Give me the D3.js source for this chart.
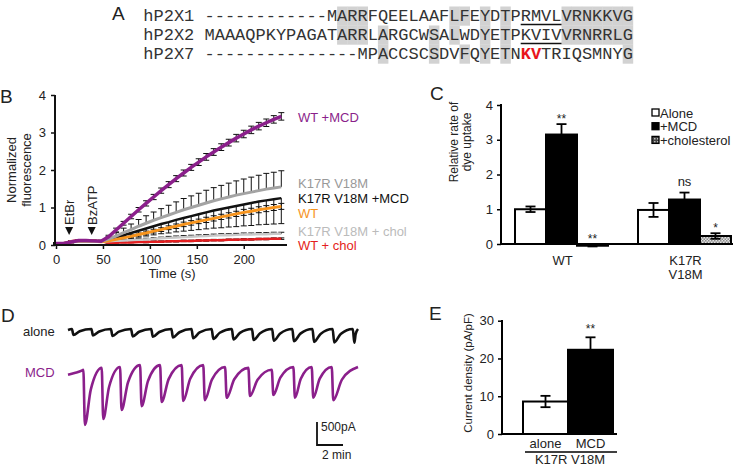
<!DOCTYPE html>
<html><head><meta charset="utf-8">
<script src="https://cdn.jsdelivr.net/npm/d3@7"></script>
<style>
body{margin:0;background:#fff}
svg{display:block;font-family:"Liberation Sans",Arial,sans-serif}
</style></head><body>
<svg id="fig" width="745" height="468"></svg>
<script>
// ===== Panel A data =====
const seqNames = ["hP2X1","hP2X2","hP2X7"];
const seqs = [
 "------------MARRFQEELAAFLFEYDTPRMVLVRNKKVG",
 "MAAAQPKYPAGATARRLARGCWSALWDYETPKVIVVRNRRLG",
 "---------------MPACCSCSDVFQYETNKVTRIQSMNYG"];
const shadedCells = [[13,0],[13,1],[14,0],[14,1],[15,0],[15,1],[17,1],[17,2],[22,1],[22,2],
 [24,0],[24,1],[25,0],[25,2],[27,0],[27,1],[27,2],[29,0],[29,1],[29,2],
 [35,0],[35,1],[36,0],[36,1],[37,0],[37,1],[38,0],[38,1],[39,0],[39,1],[40,0],[40,1],[41,0],[41,1],[41,2]];
const underlined = [[0,31,34],[1,31,34]];
const redCells = [[2,31],[2,32]];

// ===== Panel B data =====
const timesB = [0,8,16,24,32,40,48,56,64,72,80,88,96,104,112,120,128,136,144,152,160,168,176,184,192,200,208,216,224,232,240];
const wtMCD   = [0.04,0.04,0.08,0.12,0.12,0.11,0.10,0.22,0.40,0.58,0.76,0.94,1.11,1.28,1.45,1.61,1.77,1.92,2.07,2.21,2.35,2.48,2.61,2.73,2.85,2.96,3.07,3.17,3.26,3.35,3.43];
const wtMCDErr= [0.02,0.02,0.02,0.02,0.02,0.02,0.03,0.04,0.05,0.05,0.06,0.06,0.07,0.07,0.07,0.08,0.08,0.08,0.08,0.09,0.09,0.09,0.09,0.09,0.10,0.10,0.10,0.10,0.10,0.10,0.10];
const kv      = [0.04,0.04,0.08,0.11,0.11,0.10,0.10,0.16,0.24,0.33,0.41,0.50,0.58,0.66,0.73,0.80,0.87,0.94,1.00,1.06,1.12,1.18,1.23,1.28,1.33,1.37,1.41,1.45,1.49,1.52,1.55];
const kvErr   = [0.02,0.02,0.02,0.02,0.02,0.02,0.02,0.06,0.09,0.12,0.15,0.18,0.20,0.22,0.24,0.26,0.28,0.30,0.31,0.32,0.34,0.35,0.36,0.37,0.38,0.39,0.40,0.41,0.42,0.42,0.43];
const kvMCD   = [0.04,0.04,0.08,0.11,0.11,0.10,0.10,0.14,0.20,0.26,0.32,0.38,0.44,0.50,0.56,0.61,0.67,0.72,0.77,0.82,0.87,0.92,0.96,1.00,1.04,1.08,1.12,1.16,1.19,1.22,1.25];
const kvMCDErr= [0.02,0.02,0.02,0.02,0.02,0.02,0.02,0.05,0.08,0.11,0.14,0.17,0.20,0.23,0.26,0.29,0.32,0.35,0.38,0.41,0.44,0.47,0.50,0.52,0.55,0.57,0.60,0.62,0.64,0.66,0.68];
const wt      = [0.04,0.04,0.08,0.11,0.11,0.10,0.09,0.11,0.15,0.19,0.23,0.28,0.32,0.37,0.41,0.46,0.50,0.55,0.59,0.63,0.67,0.71,0.75,0.79,0.83,0.87,0.90,0.94,0.97,1.00,1.03];
const wtErr   = [0.02,0.02,0.02,0.02,0.02,0.02,0.02,0.03,0.03,0.04,0.04,0.04,0.05,0.05,0.05,0.05,0.06,0.06,0.06,0.06,0.07,0.07,0.07,0.07,0.07,0.08,0.08,0.08,0.08,0.08,0.08];
const kvChol  = [0.04,0.04,0.07,0.09,0.09,0.09,0.09,0.10,0.11,0.12,0.13,0.14,0.15,0.16,0.18,0.19,0.20,0.21,0.22,0.23,0.24,0.25,0.26,0.26,0.27,0.28,0.28,0.29,0.29,0.30,0.30];
const kvCholErr=[0.01,0.01,0.01,0.01,0.01,0.01,0.01,0.02,0.02,0.02,0.03,0.03,0.03,0.03,0.03,0.04,0.04,0.04,0.04,0.04,0.04,0.04,0.04,0.04,0.04,0.04,0.04,0.04,0.04,0.04,0.04];
const wtChol  = [0.04,0.04,0.10,0.13,0.13,0.12,0.10,0.06,0.06,0.07,0.07,0.08,0.08,0.09,0.09,0.10,0.10,0.11,0.11,0.12,0.12,0.13,0.13,0.14,0.14,0.15,0.15,0.16,0.16,0.17,0.17];
const wtCholErr=[0.01,0.01,0.01,0.01,0.01,0.01,0.01,0.01,0.01,0.01,0.01,0.01,0.02,0.02,0.02,0.02,0.02,0.02,0.02,0.02,0.02,0.02,0.02,0.02,0.02,0.02,0.02,0.02,0.02,0.02,0.02];
const bTicksX = [0,50,100,150,200];
const bTicksY = [0,1,2,3,4];
const bMarkers = [["EtBr",14],["BzATP",38]];

// ===== Panel C data =====
const cGroups = ["WT","K17R V18M"];
const cConds = ["Alone","+MCD","+cholesterol"];
const cValues = [[1.0,3.15,-0.05],[0.98,1.28,0.23]];
const cErrors = [[0.08,0.30,0.02],[0.20,0.20,0.08]];
const cSig = [["","**","**"],["","ns","*"]];
const cTicks = [0,1,2,3,4];

// ===== Panel D data (min, pA) =====
const aloneDrops = [0.3,1.8,3.3,4.85,6.4,7.95,9.5,11.05,12.6,14.15,15.7,17.25,18.8,20.35,21.9];
const alonePeaks = [-130,-140,-150,-160,-170,-185,-200,-215,-225,-240,-255,-265,-280,-290,-300];
const mcdDrops = [1.18,2.59,4.0,5.54,7.08,8.74,10.4,12.08,13.87,15.67,17.33,18.74,20.28];
const mcdTops  = [-60,-20,0,40,40,40,40,0,-20,-60,0,0,0];
const mcdPeaks = [-1260,-1130,-935,-850,-760,-740,-720,-670,-630,-610,-670,-670,-720];
const mcdStart = [[0,-170],[0.5,-130],[1.05,-80]];
const traceEnd = 22.3;

// ===== Panel E data =====
const eConds = ["alone","MCD"];
const eValues = [8.6,22.3];
const eErrors = [1.5,3.3];
const eTicks = [0,10,20,30];

const svg = d3.select("#fig");
const TXT = "#222";
const PURPLE = "#8b1f8b", ORANGE = "#f7941d", RED = "#e41e20", GRAY = "#a3a3a3", LGRAY = "#c8c8c8";
const fmt = d3.format("d");

function panelLabel(t,x,y){svg.append("text").attr("x",x).attr("y",y).attr("font-size",19).attr("fill",TXT).text(t);}

// ---------- A ----------
(function(){
  const g = svg.append("g");
  const cw = 10.2, x0 = 143.3 + 6*cw;
  const base = [21,40,59];
  const col = d3.scaleLinear().domain([0,1]).range([x0,x0+cw]);
  g.selectAll("rect.sh").data(shadedCells).join("rect")
    .attr("x",d=>col(d[0])).attr("y",d=>base[d[1]]-14.5).attr("width",cw+0.3).attr("height",19.2)
    .attr("fill","#d2d2d2");
  panelLabel("A",112,20);
  seqNames.forEach((n,r)=>{
    g.append("text").attr("x",143.3).attr("y",base[r]).attr("font-family","Liberation Mono, Courier New, monospace")
      .attr("font-size",17).attr("fill","#333").text(n);
    const chars = seqs[r].split("");
    g.selectAll(null).data(chars.map((c,i)=>({c,i}))).join("text")
      .attr("x",d=>col(d.i)).attr("y",base[r])
      .attr("font-family","Liberation Mono, Courier New, monospace").attr("font-size",17)
      .attr("fill",d=>redCells.some(rc=>rc[0]===r&&rc[1]===d.i)?"#e8141b":"#333")
      .attr("font-weight",d=>redCells.some(rc=>rc[0]===r&&rc[1]===d.i)?"bold":"normal")
      .text(d=>d.c);
  });
  underlined.forEach(u=>{
    g.append("line").attr("x1",col(u[1])).attr("x2",col(u[2]+1)).attr("y1",base[u[0]]+3.5).attr("y2",base[u[0]]+3.5)
      .attr("stroke","#111").attr("stroke-width",1.4);
  });
})();

// ---------- B ----------
(function(){
  const g = svg.append("g");
  panelLabel("B",0,103);
  const x = d3.scaleLinear().domain([0,245]).range([56,286]);
  const y = d3.scaleLinear().domain([0,4]).range([245,95]);
  const series = [
    {v:wtChol,e:wtCholErr,dir:"both",c:RED,w:2.5},
    {v:kvChol,e:kvCholErr,dir:"up",c:LGRAY,w:2.5},
    {v:kvMCD,e:kvMCDErr,dir:"down",c:"#111",w:2.5},
    {v:wt,e:wtErr,dir:"both",c:ORANGE,w:3},
    {v:kv,e:kvErr,dir:"up",c:GRAY,w:3},
    {v:wtMCD,e:wtMCDErr,dir:"both",c:PURPLE,w:3.5}
  ];
  series.forEach(s=>{
    const pts = timesB.map((t,i)=>({t,v:s.v[i],e:s.e[i]}));
    const eg = g.append("g").attr("stroke","#111").attr("stroke-width",1);
    pts.forEach(p=>{
      const hi = s.dir==="down"?p.v:p.v+p.e, lo = s.dir==="up"?p.v:p.v-p.e;
      eg.append("line").attr("x1",x(p.t)).attr("x2",x(p.t)).attr("y1",y(hi)).attr("y2",y(lo));
      if(s.dir!=="down") eg.append("line").attr("x1",x(p.t)-3).attr("x2",x(p.t)+3).attr("y1",y(hi)).attr("y2",y(hi));
      if(s.dir!=="up") eg.append("line").attr("x1",x(p.t)-3).attr("x2",x(p.t)+3).attr("y1",y(lo)).attr("y2",y(lo));
    });
  });
  const line = d3.line().x((d,i)=>x(timesB[i])).y(d=>y(d));
  series.forEach(s=>{
    g.append("path").attr("d",line(s.v)).attr("fill","none").attr("stroke",s.c).attr("stroke-width",s.w);
  });
  const ya = g.append("g").attr("transform","translate(55,0)")
    .call(d3.axisLeft(y).tickValues(bTicksY).tickFormat(fmt).tickSize(4).tickPadding(5).tickSizeOuter(0));
  const xa = g.append("g").attr("transform","translate(0,245)")
    .call(d3.axisBottom(x).tickValues(bTicksX).tickFormat(fmt).tickSize(4).tickPadding(6).tickSizeOuter(0));
  [ya,xa].forEach(a=>{a.select(".domain").remove();a.selectAll("line").attr("stroke","#111").attr("stroke-width",1.5);
    a.selectAll("text").attr("font-size",13).attr("fill",TXT).attr("font-family","Liberation Sans, Arial, sans-serif");});
  g.append("line").attr("x1",55).attr("x2",55).attr("y1",95).attr("y2",246).attr("stroke","#111").attr("stroke-width",2);
  g.append("line").attr("x1",54).attr("x2",287).attr("y1",245).attr("y2",245).attr("stroke","#111").attr("stroke-width",2);
  g.append("text").attr("x",172).attr("y",278).attr("text-anchor","middle").attr("font-size",13).attr("fill",TXT).text("Time (s)");
  const yt = g.append("text").attr("transform","translate(16,170) rotate(-90)").attr("text-anchor","middle").attr("font-size",13).attr("fill",TXT);
  yt.append("tspan").attr("x",0).attr("y",0).text("Normalized");
  yt.append("tspan").attr("x",0).attr("y",15).text("fluorescence");
  bMarkers.forEach(m=>{
    const mx = x(m[1]);
    g.append("path").attr("d",`M${mx-4},227L${mx+4},227L${mx},235Z`).attr("fill","#111");
    g.append("text").attr("transform",`translate(${mx+5},225) rotate(-90)`).attr("font-size",13).attr("fill",TXT).text(m[0]);
  });
  const labels = [["WT +MCD",117,PURPLE],["K17R V18M",183,"#999"],["K17R V18M +MCD",198,"#111"],["WT",213,ORANGE],["K17R V18M + chol",231,"#bbb"],["WT + chol",245,RED]];
  labels.forEach(l=>g.append("text").attr("x",298).attr("y",l[1]+4.5).attr("font-size",13).attr("fill",l[2]).text(l[0]));
})();

// ---------- C ----------
(function(){
  const g = svg.append("g");
  panelLabel("C",430,100);
  const defs = svg.append("defs");
  const p1 = defs.append("pattern").attr("id","chk").attr("width",3).attr("height",3).attr("patternUnits","userSpaceOnUse");
  p1.append("rect").attr("width",3).attr("height",3).attr("fill","#e2e2e2");
  p1.append("rect").attr("width",1.5).attr("height",1.5).attr("fill","#8a8a8a");
  p1.append("rect").attr("x",1.5).attr("y",1.5).attr("width",1.5).attr("height",1.5).attr("fill","#8a8a8a");
  const p2 = defs.append("pattern").attr("id","chk2").attr("width",3).attr("height",3).attr("patternUnits","userSpaceOnUse");
  p2.append("rect").attr("width",3).attr("height",3).attr("fill","#444");
  p2.append("rect").attr("width",1.5).attr("height",1.5).attr("fill","#bbb");
  const y = d3.scaleLinear().domain([0,4]).range([244,105]);
  const xg = d3.scaleBand().domain(cGroups).range([500,746]).paddingInner(0.244).paddingOuter(0.122);
  const xc = d3.scaleBand().domain(cConds).range([0,xg.bandwidth()]);
  const fills = {"Alone":"#fff","+MCD":"#000","+cholesterol":"url(#chk)"};
  cGroups.forEach((gr,gi)=>{
    cConds.forEach((c,ci)=>{
      const v = cValues[gi][ci], e = cErrors[gi][ci];
      const bx = xg(gr)+xc(c), bw = xc.bandwidth(), cx = bx+bw/2;
      g.append("rect").attr("x",bx).attr("y",Math.min(y(v),y(0))).attr("width",bw).attr("height",Math.max(Math.abs(y(v)-y(0)),1.5))
        .attr("fill",fills[c]).attr("stroke","#000").attr("stroke-width",2);
      const eg = g.append("g").attr("stroke","#000").attr("stroke-width",1.8);
      eg.append("line").attr("x1",cx).attr("x2",cx).attr("y1",y(v+e)).attr("y2",y(ci===1?v:v-e));
      eg.append("line").attr("x1",cx-5).attr("x2",cx+5).attr("y1",y(v+e)).attr("y2",y(v+e));
      if(ci!==1) eg.append("line").attr("x1",cx-5).attr("x2",cx+5).attr("y1",y(v-e)).attr("y2",y(v-e));
      const s = cSig[gi][ci];
      if(s){
        const top = y(Math.max(v+e,0));
        if(s==="ns") g.append("text").attr("x",cx).attr("y",top-7).attr("text-anchor","middle").attr("font-size",13).attr("fill",TXT).text(s);
        else g.append("text").attr("x",cx).attr("y",top-1).attr("text-anchor","middle").attr("font-size",12).attr("fill",TXT).text(s);
      }
    });
  });
  const ya = g.append("g").attr("transform","translate(501,0)")
    .call(d3.axisLeft(y).tickValues(cTicks).tickFormat(fmt).tickSize(4).tickPadding(4).tickSizeOuter(0));
  ya.select(".domain").remove();
  ya.selectAll("line").attr("stroke","#000").attr("stroke-width",1.5);
  ya.selectAll("text").attr("font-size",13).attr("fill",TXT).attr("font-family","Liberation Sans, Arial, sans-serif");
  g.append("line").attr("x1",501).attr("x2",501).attr("y1",104).attr("y2",245).attr("stroke","#000").attr("stroke-width",2);
  g.append("line").attr("x1",500).attr("x2",733).attr("y1",244).attr("y2",244).attr("stroke","#000").attr("stroke-width",2);
  cGroups.forEach(gr=>{
    const parts = gr.split(" ");
    parts.forEach((p,i)=>g.append("text").attr("x",xg(gr)+xg.bandwidth()/2+1).attr("y",265+i*14).attr("text-anchor","middle").attr("font-size",13).attr("fill",TXT).text(p));
  });
  const yt = g.append("text").attr("transform","translate(458,142) rotate(-90)").attr("text-anchor","middle").attr("font-size",12).attr("fill",TXT);
  yt.append("tspan").attr("x",0).attr("y",0).text("Relative rate of");
  yt.append("tspan").attr("x",0).attr("y",13).text("dye uptake");
  const lf = {"Alone":"#fff","+MCD":"#000","+cholesterol":"url(#chk2)"};
  cConds.forEach((c,i)=>{
    const ly = 113 + i*13.7;
    g.append("rect").attr("x",652).attr("y",ly-4).attr("width",7).attr("height",7).attr("fill",lf[c]).attr("stroke","#000").attr("stroke-width",1.3);
    g.append("text").attr("x",660).attr("y",ly+4.5).attr("font-size",13).attr("fill",TXT).text(c);
  });
})();

// ---------- D ----------
(function(){
  const g = svg.append("g");
  panelLabel("D",1,322);
  const x = d3.scaleLinear().domain([0,traceEnd]).range([68,358]);
  const yA = d3.scaleLinear().domain([-1500,0]).range([329+69,329]);
  const yM = d3.scaleLinear().domain([-1500,0]).range([367+69,367]);
  function build(drops,tops,peaks,start){
    const pts = start.slice();
    drops.forEach((t,i)=>{
      const next = i<drops.length-1?drops[i+1]:traceEnd;
      const top = tops[i], pk = peaks[i];
      const nextTop = i<drops.length-1?tops[i+1]:0;
      pts.push([t,top]);
      pts.push([t+0.12,pk]);
      pts.push([t+0.12+(next-t-0.12)*0.35, pk+(nextTop-pk)*0.62]);
    });
    pts.push([traceEnd,0]);
    return pts;
  }
  const aTops = aloneDrops.map(()=>0);
  const aPts = build(aloneDrops,aTops,alonePeaks,[[0,-20]]);
  const mPts = build(mcdDrops,mcdTops,mcdPeaks,mcdStart);
  g.append("path").attr("d",d3.line().x(d=>x(d[0])).y(d=>yA(d[1])).curve(d3.curveMonotoneX)(aPts))
    .attr("fill","none").attr("stroke","#111").attr("stroke-width",2.6).attr("stroke-linejoin","round");
  g.append("path").attr("d",d3.line().x(d=>x(d[0])).y(d=>yM(d[1])).curve(d3.curveMonotoneX)(mPts))
    .attr("fill","none").attr("stroke",PURPLE).attr("stroke-width",2.6).attr("stroke-linejoin","round");
  g.append("text").attr("x",23).attr("y",336).attr("font-size",13).attr("fill",TXT).text("alone");
  g.append("text").attr("x",25).attr("y",377).attr("font-size",13).attr("fill",PURPLE).text("MCD");
  const sx = 317, sy = 445;
  g.append("path").attr("d",`M${sx},${sy-(yM(-500)-yM(0))}L${sx},${sy}L${sx+(x(2)-x(0))},${sy}`)
    .attr("fill","none").attr("stroke","#111").attr("stroke-width",1.8);
  g.append("text").attr("x",321).attr("y",431).attr("font-size",12).attr("fill",TXT).text("500pA");
  g.append("text").attr("x",322).attr("y",459).attr("font-size",12).attr("fill",TXT).text("2 min");
})();

// ---------- E ----------
(function(){
  const g = svg.append("g");
  panelLabel("E",429,320);
  const y = d3.scaleLinear().domain([0,30]).range([434,320.7]);
  const x = d3.scaleBand().domain(eConds).range([523,613]);
  eConds.forEach((c,i)=>{
    const v = eValues[i], e = eErrors[i], bx = x(c), bw = x.bandwidth(), cx = bx+bw/2;
    g.append("rect").attr("x",bx).attr("y",y(v)).attr("width",bw).attr("height",y(0)-y(v))
      .attr("fill",i===0?"#fff":"#000").attr("stroke","#000").attr("stroke-width",2);
    const eg = g.append("g").attr("stroke","#000").attr("stroke-width",1.8);
    eg.append("line").attr("x1",cx).attr("x2",cx).attr("y1",y(v+e)).attr("y2",y(i===0?v-e:v));
    eg.append("line").attr("x1",cx-5).attr("x2",cx+5).attr("y1",y(v+e)).attr("y2",y(v+e));
    if(i===0) eg.append("line").attr("x1",cx-5).attr("x2",cx+5).attr("y1",y(v-e)).attr("y2",y(v-e));
    g.append("text").attr("x",cx).attr("y",448).attr("text-anchor","middle").attr("font-size",13).attr("fill",TXT).text(c);
  });
  g.append("text").attr("x",x("MCD")+x.bandwidth()/2).attr("y",y(eValues[1]+eErrors[1])-4).attr("text-anchor","middle").attr("font-size",12).attr("fill",TXT).text("**");
  const ya = g.append("g").attr("transform","translate(502,0)")
    .call(d3.axisLeft(y).tickValues(eTicks).tickFormat(fmt).tickSize(4).tickPadding(4).tickSizeOuter(0));
  ya.select(".domain").remove();
  ya.selectAll("line").attr("stroke","#000").attr("stroke-width",1.5);
  ya.selectAll("text").attr("font-size",13).attr("fill",TXT).attr("font-family","Liberation Sans, Arial, sans-serif");
  g.append("line").attr("x1",502).attr("x2",502).attr("y1",320).attr("y2",435).attr("stroke","#000").attr("stroke-width",2);
  g.append("line").attr("x1",501).attr("x2",617).attr("y1",434).attr("y2",434).attr("stroke","#000").attr("stroke-width",2);
  g.append("line").attr("x1",525).attr("x2",617).attr("y1",452).attr("y2",452).attr("stroke","#000").attr("stroke-width",1.3);
  g.append("text").attr("x",570).attr("y",464).attr("text-anchor","middle").attr("font-size",13).attr("fill",TXT).text("K17R V18M");
  g.append("text").attr("transform","translate(472,373) rotate(-90)").attr("text-anchor","middle").attr("font-size",11.5).attr("fill",TXT).text("Current density (pA/pF)");
})();
</script>
</body></html>
